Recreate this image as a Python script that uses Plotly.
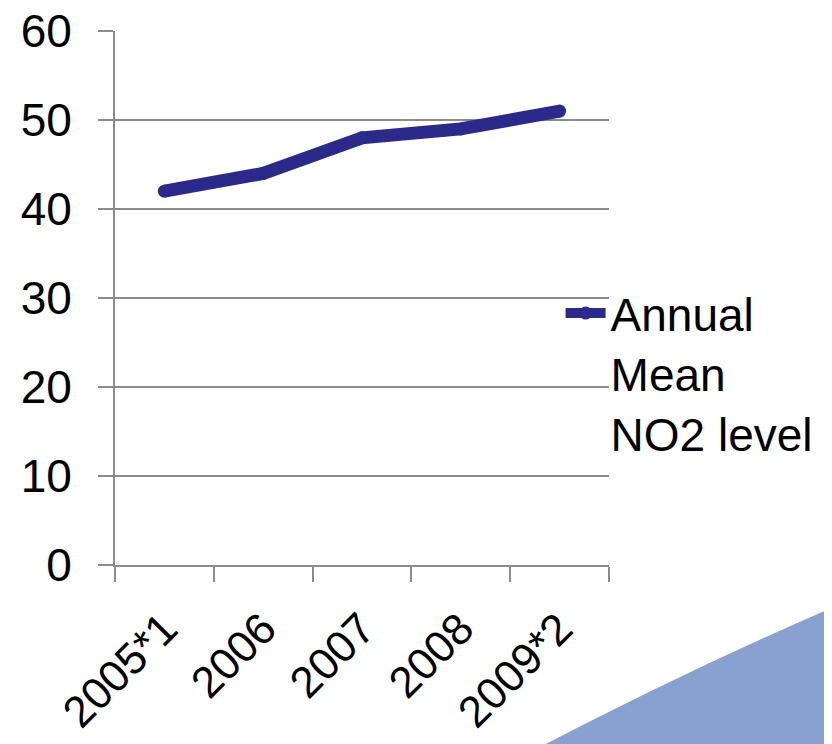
import plotly.graph_objects as go

categories = ["2005*1", "2006", "2007", "2008", "2009*2"]
no2_values = [42, 44, 48, 49, 51]
series_name = "Annual<br>Mean<br>NO2 level"
y_ticks = [0, 10, 20, 30, 40, 50, 60]

LINE_COLOR = "#2B2A8A"
GRID = "#8C8C8C"
FONT = "Liberation Sans, Arial, sans-serif"
FS = 46

fig = go.Figure()
fig.add_trace(go.Scatter(
    x=categories, y=no2_values, name=series_name,
    mode="lines+markers",
    line=dict(color=LINE_COLOR, width=13),
    marker=dict(color=LINE_COLOR, size=13, line=dict(width=0)),
))

# decorative slide corner (viewport px -> paper coords)
def px2paper(px, py):
    return (px - 115) / 494, (565 - py) / 534

p0 = px2paper(515, 760)
p1 = px2paper(690, 668)
p2 = px2paper(850, 600)
p3 = px2paper(850, 760)
path = f"M{p0[0]},{p0[1]} Q{p1[0]},{p1[1]} {p2[0]},{p2[1]} L{p3[0]},{p3[1]} Z"
fig.add_shape(type="path", path=path, xref="paper", yref="paper",
              fillcolor="#8AA0D0", line=dict(width=0), layer="below")

fig.update_layout(
    width=832, height=744,
    margin=dict(l=107, r=231, t=23, b=187, autoexpand=False),
    paper_bgcolor="white", plot_bgcolor="white",
    font=dict(family=FONT, size=FS, color="black"),
    showlegend=True,
    legend=dict(x=0.902, y=0.54, xanchor="left", yanchor="top",
                valign="top", font=dict(size=FS), itemwidth=40,
                bgcolor="rgba(0,0,0,0)", tracegroupgap=0),
    xaxis=dict(type="category", showgrid=False, showline=True, linecolor=GRID, linewidth=2,
               ticks="outside", tickson="boundaries", ticklen=15, tickwidth=2, tickcolor=GRID,
               tickangle=-45, tickfont=dict(size=44), range=[-0.5, 4.5], automargin=False,
               ticklabelstandoff=18, ticklabeloverflow="allow"),
    yaxis=dict(range=[0, 60], tickvals=y_ticks, showgrid=True, gridcolor=GRID, gridwidth=1.5,
               showline=True, linecolor=GRID, linewidth=2, zeroline=False,
               ticks="outside", ticklen=15, tickwidth=2, tickcolor=GRID,
               tickfont=dict(size=FS), ticklabelstandoff=17, automargin=False,
               ticklabeloverflow="allow"),
)

fig.write_html("out.html")
